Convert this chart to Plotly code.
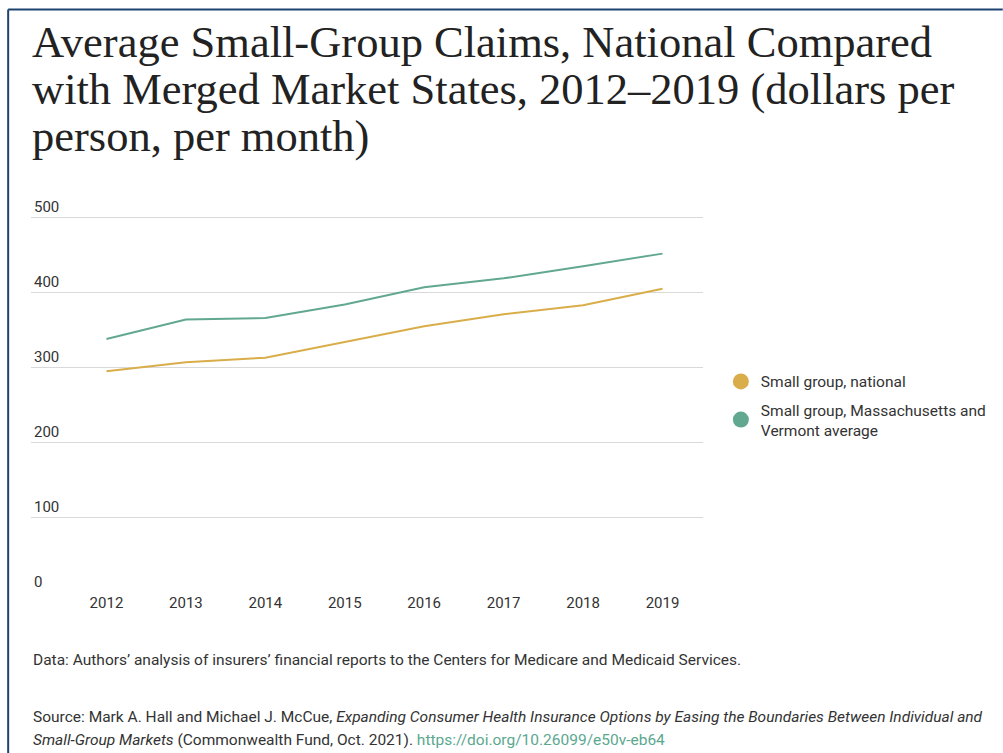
import plotly.graph_objects as go

years = [2012, 2013, 2014, 2015, 2016, 2017, 2018, 2019]
national = [295, 307, 313, 334, 355, 371, 383, 405]
ma_vt = [338, 364, 366, 384, 407, 419, 435, 452]
series_names = ["Small group, national", "Small group, Massachusetts and<br>Vermont average"]
colors = ["#d9ae4a", "#62a890"]
y_ticks = [0, 100, 200, 300, 400, 500]
title_lines = ["Average Small-Group Claims, National Compared",
               "with Merged Market States, 2012\u20132019 (dollars per",
               "person, per month)"]

W, H = 1003, 753
L, R = 31, 708
YMAX = 545
B = 592
T = B - (B - 218) * YMAX / 500

fig = go.Figure()
for i, (vals, name, c) in enumerate(zip([national, ma_vt], series_names, colors)):
    fig.add_trace(go.Scatter(x=years, y=vals, mode="lines", line=dict(color=c, width=2),
                             showlegend=False, hoverinfo="x+y"))
    fig.add_trace(go.Scatter(x=[None], y=[None], mode="markers", name=name, legendgroup=f"g{i}",
                             marker=dict(color=c, size=18, symbol="circle")))

def px(x):
    return (x - L) / (R - L)

def py(y):
    return (B - y) / (B - T)

# border lines
fig.add_shape(type="line", xref="paper", yref="paper", x0=px(8), x1=px(1010), y0=py(10), y1=py(10),
              line=dict(color="#1d4370", width=2))
fig.add_shape(type="line", xref="paper", yref="paper", x0=px(8), x1=px(8), y0=py(10), y1=py(760),
              line=dict(color="#1d4370", width=2))

title_font = dict(family="Liberation Serif, Times New Roman, serif", size=44.5, color="#222222")
for i, line in enumerate(title_lines):
    fig.add_annotation(xref="paper", yref="paper", x=px(30), y=py(42 + 47 * i), xanchor="left",
                       yanchor="middle", showarrow=False, text=line, font=title_font)

foot_font = dict(family="Roboto, Arial, sans-serif", size=15.5, color="#333333")
foot_lines = [
    (660, "Data: Authors\u2019 analysis of insurers\u2019 financial reports to the Centers for Medicare and Medicaid Services."),
    (717, "Source: Mark A. Hall and Michael J. McCue, <i>Expanding Consumer Health Insurance Options by Easing the Boundaries Between Individual and</i>"),
    (740, "<i>Small-Group Markets</i> (Commonwealth Fund, Oct. 2021). <span style='color:#5aa88f'>https://doi.org/10.26099/e50v-eb64</span>"),
]
for yy, txt in foot_lines:
    fig.add_annotation(xref="paper", yref="paper", x=px(31), y=py(yy), xanchor="left", yanchor="middle",
                       showarrow=False, align="left", font=foot_font, text=txt)

fig.update_layout(
    width=W, height=H,
    margin=dict(l=L, r=W - R, t=T, b=H - B, pad=0),
    paper_bgcolor="white", plot_bgcolor="white",
    xaxis=dict(range=[2011.05, 2019.51], tickmode="array", tickvals=years, ticktext=[str(y) for y in years],
               showgrid=False, zeroline=False, showline=False, ticks="",
               tickfont=dict(family="Roboto, Arial, sans-serif", size=15, color="#333333")),
    yaxis=dict(range=[0, YMAX], tickmode="array", tickvals=y_ticks, ticktext=[str(v) for v in y_ticks],
               showgrid=True, gridcolor="#d9d9d9", gridwidth=1, zeroline=False, showline=False, ticks="",
               ticklabelposition="inside top",
               tickfont=dict(family="Roboto, Arial, sans-serif", size=15, color="#333333")),
    legend=dict(x=px(726), y=py(365), xanchor="left", yanchor="top", bgcolor="rgba(0,0,0,0)",
                font=dict(family="Roboto, Arial, sans-serif", size=15.5, color="#333333"),
                itemsizing="trace", tracegroupgap=5),
    font=dict(family="Roboto, Arial, sans-serif"),
)

fig.write_html("out.html", post_script="document.body.style.margin='0';",
               config={"displayModeBar": False})
